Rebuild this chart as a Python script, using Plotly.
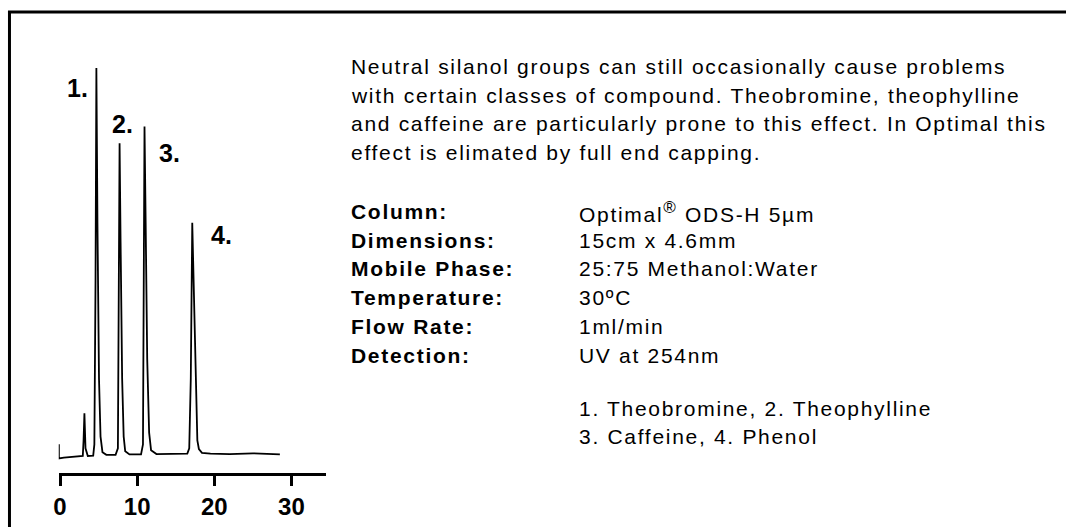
import plotly.graph_objects as go

W, H = 1066, 527

# ---- data ----
time_min = [-0.15, -0.15, 0.5, 2.0, 2.95, 3.05, 3.16, 3.3, 3.6, 4.3,
            4.45, 4.6, 4.71, 4.85, 5.05, 5.25, 5.5, 6.0, 7.2, 7.5,
            7.62, 7.72, 7.85, 8.05, 8.25, 8.45, 9.0, 10.5, 10.75, 10.87,
            10.95, 11.1, 11.3, 11.55, 11.8, 12.5, 16.5, 16.75, 16.95, 17.14,
            17.3, 17.45, 17.65, 17.8, 18.0, 18.4, 19.5, 22.0, 25.0, 28.5]
signal = [3.0, -0.6, -0.4, -0.2, 0.0, 4.0, 11.0, 2.0, 0.0, 0.1,
          3.0, 45.0, 100.0, 60.0, 20.0, 5.0, 1.0, 0.3, 0.3, 2.0,
          35.0, 80.6, 55.0, 20.0, 5.0, 1.2, 0.4, 0.4, 3.0, 40.0,
          84.9, 60.0, 25.0, 6.0, 1.5, 0.5, 0.6, 2.0, 20.0, 60.1,
          45.0, 30.0, 12.0, 4.0, 1.8, 0.8, 0.6, 0.5, 0.7, 0.4]

peak_labels = ["1.", "2.", "3.", "4."]
peak_label_time = [2.32, 8.13, 14.2, 20.9]
peak_label_signal = [94.9, 85.6, 78.1, 56.9]

tick_vals = [0, 10, 20, 30]
tick_text = ["0", "10", "20", "30"]

paragraph = [
    "Neutral silanol groups can still occasionally cause problems",
    "with certain classes of compound. Theobromine, theophylline",
    "and caffeine are particularly prone to this effect. In Optimal this",
    "effect is elimated by full end capping.",
]
param_names = ["Column:", "Dimensions:", "Mobile Phase:", "Temperature:", "Flow Rate:", "Detection:"]
param_values = ['Optimal<sup><span style="font-size:17px">®</span></sup> ODS-H 5µm',
                "15cm x 4.6mm", "25:75 Methanol:Water",
                "30ºC", "1ml/min", "UV at 254nm"]
compounds = ["1. Theobromine, 2. Theophylline", "3. Caffeine, 4. Phenol"]

# ---- helpers ----
def px(x):
    return x / W

def py(y):
    return 1 - y / H

def spaced(s, ls=1.7):
    return '<span style="letter-spacing:%.1fpx">%s</span>' % (ls, s)

FONT = "Liberation Sans, Arial, sans-serif"
NARROW = "Liberation Sans Narrow, Arial Narrow, sans-serif"

fig = go.Figure()
fig.add_trace(go.Scatter(x=time_min, y=signal, mode="lines",
                         line=dict(color="black", width=1.8),
                         hoverinfo="skip", showlegend=False))

for lab, t, s in zip(peak_labels, peak_label_time, peak_label_signal):
    fig.add_annotation(x=t, y=s, xref="x", yref="y", text=lab, showarrow=False,
                       font=dict(family=NARROW, size=25, color="black", weight="bold"),
                       xanchor="center", yanchor="middle", borderpad=0, borderwidth=0)

TEXT_X = 348
VAL_X = 577
annotations = []
for i, line in enumerate(paragraph):
    annotations.append(dict(x=px(TEXT_X), y=py(66.5 + 28.5 * i), text=spaced(line)))
for i, (n, v) in enumerate(zip(param_names, param_values)):
    annotations.append(dict(x=px(TEXT_X), y=py(211.5 + 28.75 * i), text=spaced("<b>" + n + "</b>")))
    annotations.append(dict(x=px(VAL_X), y=py(211.5 + 28.75 * i), text=spaced(v)))
for i, c in enumerate(compounds):
    annotations.append(dict(x=px(VAL_X), y=py(408 + 28.6 * i), text=spaced(c)))
for a in annotations:
    fig.add_annotation(xref="paper", yref="paper", showarrow=False,
                       xanchor="left", yanchor="middle", borderpad=0, borderwidth=0,
                       font=dict(family=FONT, size=21, color="black"), **a)

# frame lines
fig.add_shape(type="line", xref="paper", yref="paper", x0=px(3), x1=1.0, y0=py(12), y1=py(12),
              line=dict(color="black", width=3))
fig.add_shape(type="line", xref="paper", yref="paper", x0=px(4.5), x1=px(4.5), y0=py(11), y1=0,
              line=dict(color="black", width=3))

x0_px, x1_px = 54, 323
scale = 7.75
zero_px = 55.3
y_top_px, y_bot_px = 60, 473
base_px = 456
yscale = 3.88

fig.update_layout(
    width=W, height=H,
    margin=dict(l=0, r=0, t=0, b=0),
    paper_bgcolor="white", plot_bgcolor="white",
    xaxis=dict(domain=[px(x0_px), px(x1_px)],
               range=[(x0_px - zero_px) / scale, (x1_px - zero_px) / scale],
               showgrid=False, zeroline=False,
               showline=True, linewidth=3, linecolor="black",
               ticks="outside", ticklen=10, tickwidth=3, tickcolor="black",
               tickvals=tick_vals, ticktext=tick_text,
               tickfont=dict(family=NARROW, size=24, color="black", weight="bold")),
    yaxis=dict(domain=[py(y_bot_px), py(y_top_px)],
               range=[(base_px - y_bot_px) / yscale, (base_px - y_top_px) / yscale],
               visible=False),
)

fig.write_html("out.html", config={"displayModeBar": False},
               post_script="document.body.style.margin='0px';")
